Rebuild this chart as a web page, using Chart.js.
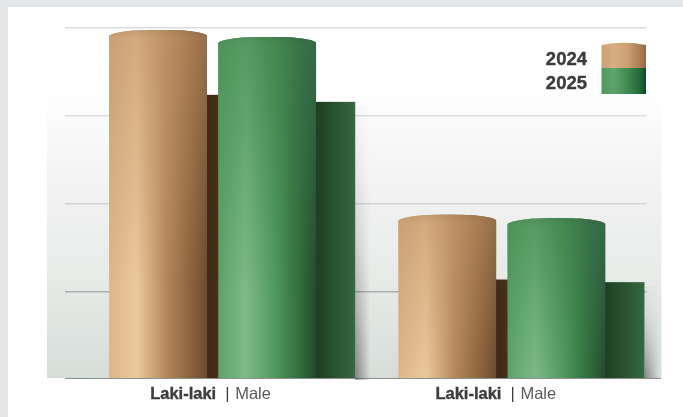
<!DOCTYPE html>
<html>
<head>
<meta charset="utf-8">
<title>Laki-laki | Male</title>
<script src="https://cdn.jsdelivr.net/npm/chart.js@4/dist/chart.umd.js"></script>
<style>
  html, body { margin: 0; padding: 0; background: #e4e6e8; }
  canvas { display: block; }
</style>
</head>
<body>
<canvas id="genderChart" width="683" height="417"></canvas>
<script>
const categoryBold = ['Laki-laki', 'Laki-laki'];
const categoryLight = ['Male', 'Male'];
const seriesNames = ['2024', '2025'];
const values2024 = [398, 188];
const values2025 = [390, 184];
// the darker block standing behind each cylinder
const backing2024 = [324, 114];
const backing2025 = [316, 111];
const gridValues = [100, 200, 300, 400];

const tan = {
  top: ['#c9a077', '#d2a87c', '#bd9062', '#a87c52', '#94704c'],
  low: ['#dcb68c', '#ecc99c', '#b5885a', '#8a603c', '#6a4a2e'],
  backing: ['#3f2917', '#5c3d25']
};
const green = {
  top: ['#4b9459', '#549a62', '#43894f', '#38724a', '#366c46'],
  low: ['#5da268', '#7fba8a', '#4f9a5e', '#2f6a3c', '#234a2c'],
  backing: ['#1f3d24', '#37683e']
};
const palettes = [tan, green];
const gradientStops = [0, 0.28, 0.58, 0.85, 1];

function sideGradient(ctx, left, right, colors) {
  const g = ctx.createLinearGradient(left, 0, right, 0);
  colors.forEach((c, i) => g.addColorStop(gradientStops[i], c));
  return g;
}

// Bar element drawn as a standing cylinder with a rounded top
class CylinderBar extends Chart.BarElement {
  draw(ctx) {
    const { x, y, base, width, palette } = this;
    const left = x - width / 2;
    const right = x + width / 2;
    const cap = 6;

    ctx.save();
    ctx.beginPath();
    ctx.moveTo(left, base);
    ctx.lineTo(left, y + cap);
    ctx.bezierCurveTo(left + 8, y + 1, x - 20, y, x, y);
    ctx.bezierCurveTo(x + 20, y, right - 6, y + 1, right, y + cap);
    ctx.lineTo(right, base);
    ctx.closePath();
    ctx.clip();

    ctx.fillStyle = sideGradient(ctx, left, right, palette.low);
    ctx.fillRect(left, y, width, base - y);

    // upper part fades into the flatter, darker colouring
    const bandHeight = Math.min(base - y, 260);
    const layer = document.createElement('canvas');
    layer.width = Math.ceil(width);
    layer.height = Math.ceil(bandHeight);
    const lc = layer.getContext('2d');
    lc.fillStyle = sideGradient(lc, 0, width, palette.top);
    lc.fillRect(0, 0, width, bandHeight);
    lc.globalCompositeOperation = 'destination-in';
    const lf = lc.createLinearGradient(0, 0, 0, bandHeight);
    lf.addColorStop(0, 'rgba(0,0,0,1)');
    lf.addColorStop(1, 'rgba(0,0,0,0)');
    lc.fillStyle = lf;
    lc.fillRect(0, 0, width, bandHeight);
    ctx.drawImage(layer, left, y);

    // thin shaded rim along the top edge
    const rim = ctx.createLinearGradient(0, y, 0, y + cap + 2);
    rim.addColorStop(0, 'rgba(70,60,40,0.12)');
    rim.addColorStop(1, 'rgba(70,60,40,0)');
    ctx.fillStyle = rim;
    ctx.fillRect(left, y, width, cap + 2);
    ctx.restore();
  }
}
CylinderBar.id = 'cylinderBar';
CylinderBar.defaults = Chart.BarElement.defaults;
CylinderBar.defaultRoutes = Chart.BarElement.defaultRoutes;

class CylinderController extends Chart.BarController {
  updateElements(bars, start, count, mode) {
    super.updateElements(bars, start, count, mode);
    bars.forEach(bar => { bar.palette = palettes[this.index]; });
  }
}
CylinderController.id = 'cylinder';
CylinderController.defaults = { ...Chart.BarController.defaults, dataElementType: 'cylinderBar' };
CylinderController.overrides = Chart.BarController.overrides;

Chart.register(CylinderBar, CylinderController);

// Page panel, soft backdrop behind the plot and the base line
const backdrop = {
  id: 'backdrop',
  beforeDraw(chart) {
    const { ctx, chartArea } = chart;
    ctx.save();
    ctx.fillStyle = '#ffffff';
    ctx.fillRect(8, 7, 675, 410);
    const g = ctx.createLinearGradient(0, 55, 0, chartArea.bottom);
    g.addColorStop(0, '#ffffff');
    g.addColorStop(0.14, '#fefefe');
    g.addColorStop(0.23, '#f9f9f9');
    g.addColorStop(0.45, '#f0f1f0');
    g.addColorStop(0.67, '#e8ece9');
    g.addColorStop(1, '#d6ddd9');
    ctx.fillStyle = g;
    ctx.fillRect(47, 55, 614.5, chartArea.bottom - 55);
    ctx.strokeStyle = '#8d908f';
    ctx.lineWidth = 1;
    ctx.beginPath();
    ctx.moveTo(65, chartArea.bottom + 0.5);
    ctx.lineTo(661, chartArea.bottom + 0.5);
    ctx.stroke();
    ctx.restore();
  }
};

// Dark blocks behind the cylinders, placed off the bar geometry and value scale
const backings = {
  id: 'backings',
  beforeDatasetsDraw(chart) {
    const { ctx, scales, chartArea } = chart;
    const depth = 39;
    [backing2024, backing2025].forEach((vals, d) => {
      const colors = palettes[d].backing;
      chart.getDatasetMeta(d).data.forEach((bar, i) => {
        const left = bar.x + bar.width / 2 - 1;
        const top = scales.y.getPixelForValue(vals[i]);
        const bottom = chartArea.bottom;
        const w = depth + 1;
        ctx.save();
        if (d === 1) {
          // soft cast shadow to the right of the block, deepest at the floor
          const sh = ctx.createLinearGradient(left + w, 0, left + w + 15, 0);
          sh.addColorStop(0, 'rgba(50,50,50,1)');
          sh.addColorStop(1, 'rgba(50,50,50,0)');
          ctx.fillStyle = sh;
          for (let y = top + 4; y < bottom; y += 2) {
            const t = (y - top) / (bottom - top);
            ctx.globalAlpha = t * t * 0.5 + 0.04;
            ctx.fillRect(left + w, y, 15, 2);
          }
          ctx.globalAlpha = 1;
        }
        const g = ctx.createLinearGradient(left, 0, left + w, 0);
        g.addColorStop(0, colors[0]);
        g.addColorStop(1, colors[1]);
        ctx.fillStyle = g;
        ctx.fillRect(left, top, w, bottom - top);
        ctx.restore();
      });
    });
  }
};

function heavyText(ctx, text, x, y) {
  ctx.fillText(text, x, y);
  ctx.lineWidth = 0.35;
  ctx.strokeStyle = ctx.fillStyle;
  ctx.strokeText(text, x, y);
}

// Two-weight category captions and the series key with its shared swatch
const captions = {
  id: 'captions',
  afterDraw(chart) {
    const { ctx, scales } = chart;
    const textShift = [-62.5, -66.5];
    ctx.save();
    ctx.textBaseline = 'alphabetic';
    categoryBold.forEach((word, i) => {
      const x = scales.x.getPixelForTick(i) + textShift[i];
      const y = 399;
      ctx.fillStyle = '#3c3c3c';
      ctx.font = 'bold 16.5px "Liberation Sans"';
      heavyText(ctx, word, x, y);
      const end = x + ctx.measureText(word).width;
      ctx.font = '16.5px "Liberation Sans"';
      ctx.fillText('|', end + 9, y);
      ctx.fillStyle = '#5a5a5a';
      ctx.fillText(categoryLight[i], end + 19, y);
    });

    ctx.fillStyle = '#3c3c3c';
    ctx.font = 'bold 18.5px "Liberation Sans"';
    ctx.textAlign = 'right';
    heavyText(ctx, seriesNames[0], 587, 65);
    heavyText(ctx, seriesNames[1], 587, 89);

    const sx = 601.5, sw = 44.5;
    ctx.textAlign = 'left';
    ctx.beginPath();
    ctx.moveTo(sx, 68);
    ctx.lineTo(sx, 45);
    ctx.quadraticCurveTo(sx + sw / 2, 40.5, sx + sw, 45);
    ctx.lineTo(sx + sw, 68);
    ctx.closePath();
    ctx.fillStyle = sideGradient(ctx, sx, sx + sw, ['#c9a074', '#d9ae80', '#cca070', '#ad7f55', '#936a44']);
    ctx.fill();
    ctx.fillStyle = sideGradient(ctx, sx, sx + sw, ['#4f9a5c', '#5fa46c', '#3e8a50', '#276a3a', '#0f4a24']);
    ctx.fillRect(sx, 68, sw, 26);
    ctx.restore();
  }
};

new Chart(document.getElementById('genderChart'), {
  type: 'cylinder',
  data: {
    labels: categoryBold.map((w, i) => w + ' | ' + categoryLight[i]),
    datasets: [
      { label: seriesNames[0], data: values2024 },
      { label: seriesNames[1], data: values2025 }
    ]
  },
  options: {
    responsive: false,
    animation: false,
    layout: { padding: { left: 65, right: 36.5, top: 28, bottom: 39 } },
    datasets: { cylinder: { categoryPercentage: 218 / 289, barPercentage: 98 / 109 } },
    plugins: { legend: { display: false }, tooltip: { enabled: false } },
    scales: {
      x: {
        ticks: { display: false },
        grid: { display: false, drawTicks: false },
        border: { display: false }
      },
      y: {
        min: 2,
        max: 400,
        afterBuildTicks(axis) {
          axis.ticks = gridValues.map(v => ({ value: v }));
        },
        ticks: { display: false },
        border: { display: false },
        grid: {
          tickLength: 3,
          lineWidth: 1.6,
          color(c) {
            if (!c.tick) return '#dcdedd';
            if (c.tick.value === 100) return '#a9aeac';
            return c.tick.value === 200 ? '#d2d5d3' : '#dcdedd';
          }
        }
      }
    }
  },
  plugins: [backdrop, backings, captions]
});
</script>
</body>
</html>
